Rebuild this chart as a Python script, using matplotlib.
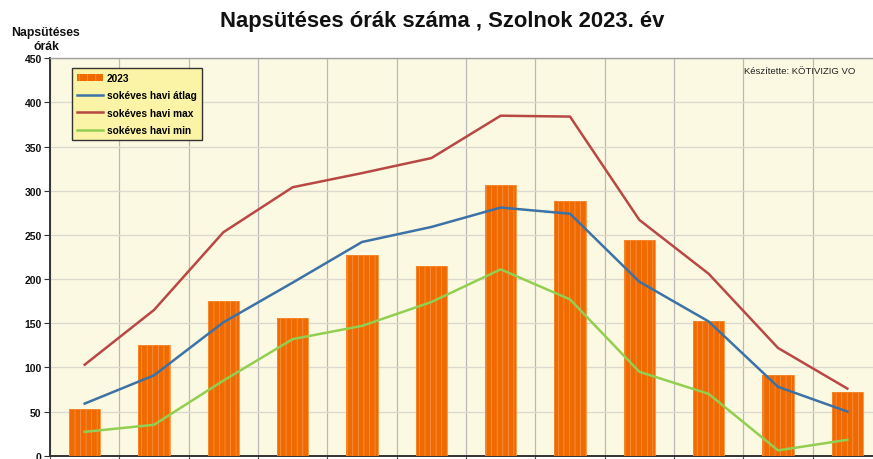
import matplotlib
matplotlib.use("Agg")
import matplotlib.pyplot as plt
import numpy as np
from matplotlib.patches import Patch
from matplotlib.lines import Line2D

plt.rcParams['font.family'] = ['Liberation Sans', 'DejaVu Sans']
plt.rcParams['hatch.linewidth'] = 0.5

months = ['I', 'II', 'III', 'IV', 'V', 'VI', 'VII', 'VIII', 'IX', 'X', 'XI', 'XII']
sun_2023 = [53, 125, 175, 156, 227, 215, 306, 288, 244, 152, 91, 72]
avg_long = [59, 91, 151, 196, 242, 259, 281, 274, 197, 152, 78, 50]
max_long = [103, 165, 253, 304, 320, 337, 385, 384, 267, 206, 122, 76]
min_long = [27, 35, 85, 132, 147, 174, 211, 177, 95, 70, 6, 18]

title = 'Napsütéses órák száma , Szolnok 2023. év'
ylabel = 'Napsütéses\nórák'
credit = 'Készítette: KÖTIVIZIG VO'
legend_labels = ['2023', 'sokéves havi átlag', 'sokéves havi max', 'sokéves havi min']

W, H = 873, 460
fig = plt.figure(figsize=(W / 100, H / 100), dpi=100)
fig.patch.set_facecolor('white')
ax = fig.add_axes([50 / W, 3.3 / H, 832 / W, 397.4 / H])
ax.set_facecolor('#FCF9E2')

x = np.arange(len(months))
bar_c = '#F06A00'
ax.bar(x, sun_2023, width=0.45, color=bar_c, edgecolor='#F59A55', hatch='|||',
       linewidth=0, zorder=3)
ax.bar(x, sun_2023, width=0.45, facecolor='none', edgecolor='#F48A30', linewidth=0.6, zorder=3)

c_avg, c_max, c_min = '#3C72A6', '#B84844', '#92CF50'
ax.plot(x, avg_long, color=c_avg, lw=1.8, zorder=4)
ax.plot(x, max_long, color=c_max, lw=1.8, zorder=4)
ax.plot(x, min_long, color=c_min, lw=1.8, zorder=4)

ax.set_xlim(-0.5, len(months) - 0.5)
ax.set_ylim(0, 450)
ax.set_yticks(np.arange(0, 451, 50))
ax.set_xticks(np.arange(-0.5, len(months), 1.0))
ax.set_xticklabels([])
ax.tick_params(axis='x', direction='out', length=4, width=0.8, colors='#555555')
ax.tick_params(axis='y', direction='out', length=4, width=0.8, colors='#333333', pad=2)
for lab in ax.get_yticklabels():
    lab.set_fontweight('bold')
    lab.set_fontsize(7.5)
    lab.set_color('#111111')

ax.grid(axis='y', color='#DCDAD0', lw=1.0, zorder=1)
ax.grid(axis='x', color='#B8B8B8', lw=0.9, zorder=1)
ax.set_axisbelow(True)

for s in ['left', 'bottom']:
    ax.spines[s].set_color('#333333')
    ax.spines[s].set_linewidth(1.4)
ax.spines['top'].set_color('#A0A0A0')
ax.spines['top'].set_linewidth(1.0)
ax.spines['right'].set_visible(False)

handles = [Patch(facecolor=bar_c, edgecolor='#F59A55', hatch='||', linewidth=0),
           Line2D([0], [0], color=c_avg, lw=1.8),
           Line2D([0], [0], color=c_max, lw=1.8),
           Line2D([0], [0], color=c_min, lw=1.8)]
leg = ax.legend(handles, legend_labels, loc='upper left',
                bbox_to_anchor=((72 - 50) / 832, (456.7 - 69) / 397.4),
                borderaxespad=0, fancybox=False, frameon=True,
                prop={'weight': 'bold', 'size': 7.3}, handlelength=2.6,
                handleheight=0.55, handletextpad=0.35, labelspacing=0.72,
                borderpad=0.5)
leg.get_frame().set_facecolor('#FBF3A6')
leg.get_frame().set_edgecolor('#333333')
leg.get_frame().set_linewidth(1.0)
leg.get_frame().set_alpha(1)
leg.set_zorder(6)

fig.text(442 / W, 1 - 21 / H, title, ha='center', va='center',
         fontsize=15.8, fontweight='bold', color='#111111')
fig.text(46 / W, 1 - 40 / H, ylabel, ha='center', va='center',
         fontsize=8.8, fontweight='bold', color='#111111', linespacing=1.15)
ax.text((744 - 50) / 832, (456.7 - 71) / 397.4, credit, ha='left', va='center',
        fontsize=6.8, color='#222222', transform=ax.transAxes, zorder=6)

fig.savefig('out.png', dpi=100, facecolor='white')
